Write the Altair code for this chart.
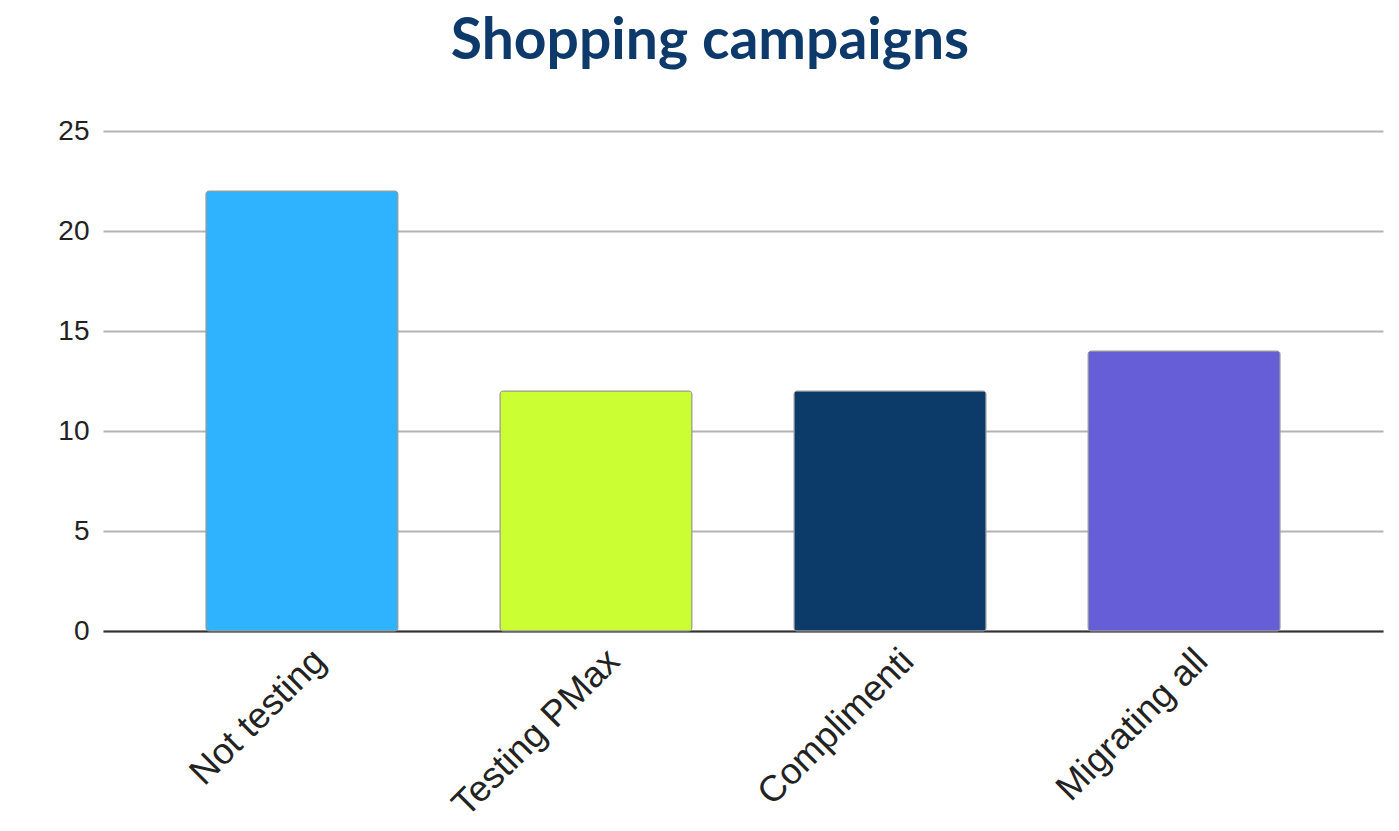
import altair as alt
import pandas as pd

# Survey responses: how advertisers are handling Shopping campaigns
categories = ["Not testing", "Testing PMax", "Complimenti", "Migrating all"]
counts = [22, 12, 12, 14]
bar_colors = ["#2fb3ff", "#ccff33", "#0c3a69", "#665ed6"]
y_ticks = [0, 5, 10, 15, 20, 25]

df = pd.DataFrame({"category": categories, "count": counts})

bars = (
    alt.Chart(df)
    .mark_bar(cornerRadius=3, stroke="#9a9a9a", strokeWidth=1)
    .encode(
        x=alt.X(
            "category:N",
            sort=categories,
            title=None,
            scale=alt.Scale(paddingInner=0.347, paddingOuter=0.35),
            axis=alt.Axis(
                labelAngle=-45,
                labelAlign="right",
                labelBaseline="middle",
                labelFont="Liberation Sans",
                labelFontSize=36.5,
                labelColor="#222222",
                labelPadding=24,
                labelOffset=18,
                labelLimit=0,
                labelOverlap=False,
                ticks=False,
                domain=True,
                domainColor="#333333",
                domainWidth=2,
                grid=False,
            ),
        ),
        y=alt.Y(
            "count:Q",
            title=None,
            scale=alt.Scale(domain=[0, 25], nice=False),
            axis=alt.Axis(
                values=y_ticks,
                labelFont="Liberation Sans",
                labelFontSize=28,
                labelColor="#222222",
                labelPadding=14,
                ticks=False,
                domain=False,
                grid=True,
                gridColor="#b3b3b3",
                gridWidth=2,
            ),
        ),
        color=alt.Color(
            "category:N",
            sort=categories,
            scale=alt.Scale(domain=categories, range=bar_colors),
            legend=None,
        ),
    )
)

chart = (
    bars.properties(
        width=1280,
        height=500,
        autosize=alt.AutoSizeParams(type="none"),
        padding={"left": 103, "top": 131, "right": 16, "bottom": 200},
        title=alt.TitleParams(
            "Shopping campaigns",
            font="Lato",
            fontSize=57,
            fontWeight="bold",
            color="#0d3a6b",
            anchor="middle",
            dx=-33,
            offset=46,
        ),
    )
    .configure_view(stroke=None)
)

chart.save("out.html", embed_options={"renderer": "svg", "actions": False})
